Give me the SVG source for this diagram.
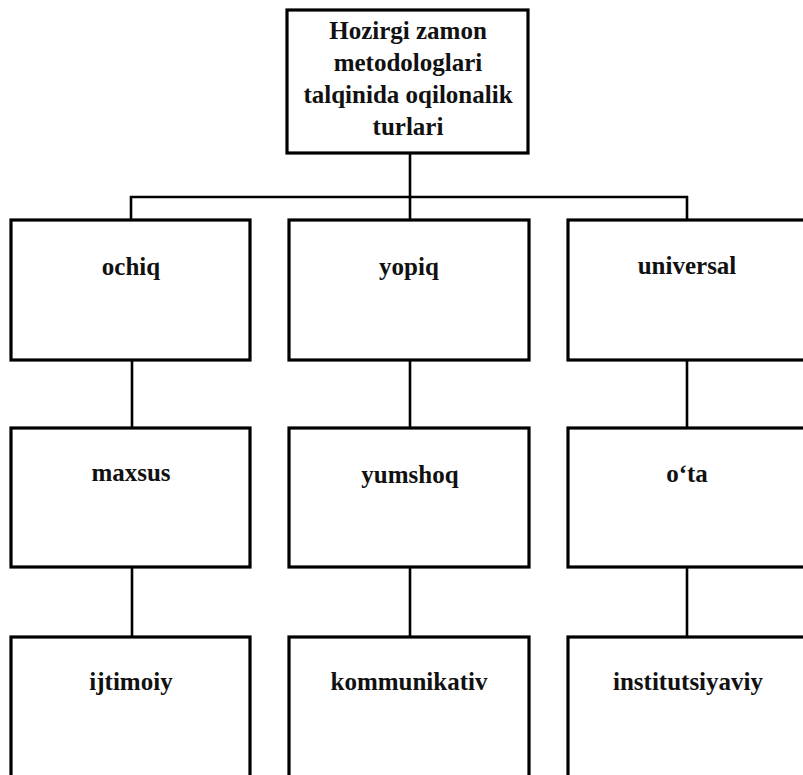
<svg xmlns="http://www.w3.org/2000/svg" width="803" height="775" viewBox="0 0 803 775">
<style>
.box{fill:#fff;stroke:#000;stroke-width:3.2}
.lbl{font-family:"Liberation Serif","Times New Roman",serif;font-weight:bold;font-size:25px;fill:#111;text-anchor:middle}
.con{stroke:#000;stroke-width:2.6;fill:none}
</style>
<rect width="803" height="775" fill="#fff"/>
<g id="connectors">
<line class="con" x1="410" y1="153" x2="410" y2="220"/>
<line class="con" x1="130" y1="197" x2="688" y2="197"/>
<line class="con" x1="131" y1="196" x2="131" y2="220"/>
<line class="con" x1="687" y1="196" x2="687" y2="220"/>
<line class="con" x1="132" y1="360" x2="132" y2="428"/>
<line class="con" x1="410" y1="360" x2="410" y2="428"/>
<line class="con" x1="687" y1="360" x2="687" y2="428"/>
<line class="con" x1="132" y1="567" x2="132" y2="637"/>
<line class="con" x1="410" y1="567" x2="410" y2="637"/>
<line class="con" x1="687" y1="567" x2="687" y2="637"/>
</g>
<g id="root">
<rect class="box" x="287" y="10" width="241" height="143"/>
<text class="lbl" x="408" y="39">Hozirgi zamon</text>
<text class="lbl" x="408" y="71">metodologlari</text>
<text class="lbl" x="408" y="103">talqinida oqilonalik</text>
<text class="lbl" x="408" y="135">turlari</text>
</g>
<g id="ochiq">
<rect class="box" x="11" y="220" width="239" height="140"/>
<text class="lbl" x="131" y="275">ochiq</text>
</g>
<g id="yopiq">
<rect class="box" x="289" y="220" width="240" height="140"/>
<text class="lbl" x="409" y="275">yopiq</text>
</g>
<g id="universal">
<rect class="box" x="568" y="220" width="240" height="140"/>
<text class="lbl" x="687" y="274">universal</text>
</g>
<g id="maxsus">
<rect class="box" x="11" y="428" width="239" height="139"/>
<text class="lbl" x="131" y="481">maxsus</text>
</g>
<g id="yumshoq">
<rect class="box" x="289" y="428" width="240" height="139"/>
<text class="lbl" x="410" y="483">yumshoq</text>
</g>
<g id="ota">
<rect class="box" x="568" y="428" width="240" height="139"/>
<text class="lbl" x="687" y="482">o‘ta</text>
</g>
<g id="ijtimoiy">
<rect class="box" x="11" y="637" width="239" height="145"/>
<text class="lbl" x="131" y="690">ijtimoiy</text>
</g>
<g id="kommunikativ">
<rect class="box" x="289" y="637" width="240" height="145"/>
<text class="lbl" x="409" y="690">kommunikativ</text>
</g>
<g id="institutsiyaviy">
<rect class="box" x="568" y="637" width="240" height="145"/>
<text class="lbl" x="688" y="690">institutsiyaviy</text>
</g>
</svg>
